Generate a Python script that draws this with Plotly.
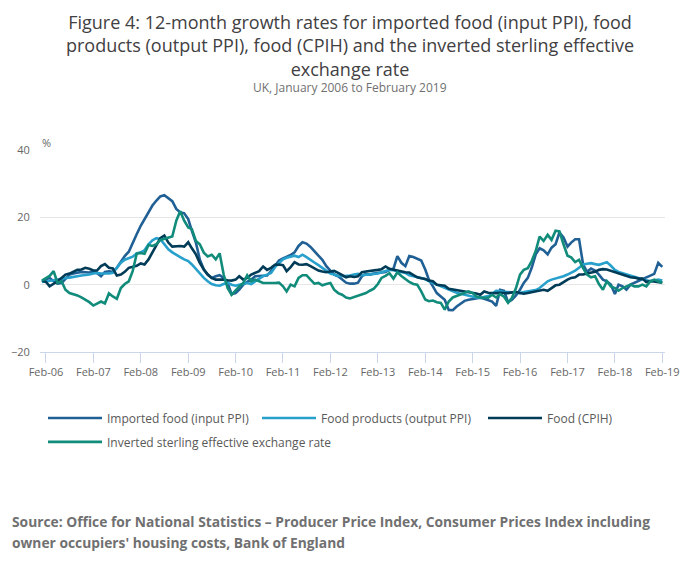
import pandas as pd
import plotly.graph_objects as go

months = pd.date_range("2006-01-01", "2019-02-01", freq="MS")

imported_food = [
    1.0, 1.5, 2.0, 1.0, 0.3, 0.5, 1.8, 3.0, 3.3, 3.6, 3.8, 3.7,
    3.6, 3.8, 3.5, 2.5, 3.8, 4.0, 3.8, 5.0, 6.8, 8.5, 9.8, 12.5,
    15.0, 17.5, 19.5, 21.5, 23.5, 25.0, 26.2, 26.6, 25.6, 24.8, 22.5, 21.5,
    21.2, 19.5, 16.0, 12.5, 7.5, 4.5, 3.0, 2.0, 2.5, 2.8, 2.0, 0.5,
    -2.8, -2.5, -1.5, 0.0, 0.8, 1.5, 2.5, 2.6, 2.5, 2.7, 4.0, 5.5,
    7.2, 7.8, 8.3, 8.8, 9.6, 11.5, 12.6, 12.2, 11.2, 9.8, 8.6, 7.4,
    5.5, 4.2, 3.0, 2.5, 1.5, 0.6, 0.3, 0.3, 0.6, 2.5, 3.2, 3.0,
    3.3, 3.4, 3.5, 3.8, 4.4, 4.7, 8.5, 6.5, 5.5, 8.5, 8.2, 7.7,
    7.2, 4.5, 1.5, -0.5, -2.5, -3.5, -4.5, -7.5, -7.6, -6.5, -5.5, -4.8,
    -4.5, -4.3, -4.0, -3.9, -4.2, -4.6, -5.0, -6.3, -1.5, -1.8, -5.2, -4.5,
    -3.2, -1.5, 0.5, 2.0, 5.0, 9.0, 10.8, 10.2, 9.0, 11.0, 12.0, 15.5,
    14.0, 11.3, 12.5, 13.5, 13.5, 6.0, 3.8, 4.8, 4.2, 3.0, 1.5, 1.0,
    0.0, -2.8, 0.0, -0.5, -1.5, 0.0, 0.5, 1.0, 1.7, 2.0, 2.5, 3.2,
    6.5, 5.3,
]

food_products = [
    0.8, 0.9, 1.0, 1.3, 1.5, 1.8, 2.0, 2.1, 2.4, 2.5, 2.7, 2.8,
    3.0, 3.3, 3.5, 3.3, 3.2, 3.3, 3.5, 5.0, 6.5, 7.4, 7.8, 8.3,
    9.3, 9.6, 10.2, 12.0, 13.2, 13.8, 13.5, 12.0, 10.5, 9.6, 8.8, 8.2,
    7.5, 7.0, 6.0, 4.6, 3.2, 2.0, 1.0, 0.2, -0.2, -0.3, 0.2, 0.6,
    0.0, -0.3, 0.0, 0.3, 0.5, 0.2, 1.0, 1.8, 2.5, 3.0, 3.5, 5.2,
    6.5, 7.5, 8.0, 8.4, 8.6, 8.2, 8.9, 8.2, 7.5, 6.6, 5.8, 5.0,
    4.0, 3.3, 3.0, 2.6, 2.5, 2.5, 2.7, 3.0, 3.2, 2.8, 3.0, 3.1,
    3.2, 3.3, 3.6, 4.1, 4.4, 4.3, 4.0, 3.9, 3.5, 2.8, 2.6, 2.4,
    2.0, 1.6, 1.0, 0.5, 0.0, -0.5, -1.0, -1.6, -2.0, -2.4, -2.7, -3.0,
    -3.1, -3.4, -3.8, -3.9, -3.7, -3.4, -2.8, -1.8, -1.9, -2.2, -2.2, -2.3,
    -2.3, -2.5, -2.2, -2.0, -2.0, -1.6, -1.0, 0.0, 1.0, 1.5, 1.8, 2.0,
    2.5, 3.0, 3.5, 4.2, 5.0, 6.0, 6.2, 6.4, 6.1, 5.9, 6.3, 6.7,
    5.6, 4.4, 3.8, 3.4, 3.0, 2.6, 2.2, 1.9, 1.6, 1.3, 1.0, 1.2,
    1.5, 1.2,
]

food_cpih = [
    1.2, 0.8, -0.5, 0.2, 1.0, 2.0, 3.0, 3.3, 3.8, 4.4, 4.5, 5.0,
    4.7, 4.2, 4.2, 5.5, 6.1, 5.0, 4.8, 2.7, 3.0, 3.8, 5.0, 5.3,
    5.6, 6.3, 6.0, 7.5, 9.5, 12.0, 13.8, 14.6, 12.5, 11.3, 11.4, 11.5,
    11.3, 12.6, 10.8, 9.0, 6.5, 4.5, 3.0, 2.0, 1.5, 1.6, 1.5, 1.3,
    1.2, 1.5, 2.5, 1.5, 2.0, 3.0, 3.5, 4.0, 5.4, 4.4, 5.0, 5.9,
    6.0, 5.8, 4.0, 5.2, 6.7, 6.0, 5.9, 6.1, 5.5, 4.8, 4.2, 3.9,
    3.7, 3.9, 4.1, 3.5, 2.9, 2.2, 2.5, 2.3, 2.5, 3.7, 3.9, 4.0,
    4.2, 4.4, 4.6, 5.4, 4.7, 4.4, 4.1, 3.8, 3.7, 3.6, 2.8, 2.2,
    1.9, 1.7, 1.2, 1.0, 0.0, -0.2, -0.3, -1.2, -1.4, -1.5, -1.7, -1.9,
    -2.3, -2.4, -2.6, -3.0, -2.0, -2.4, -2.5, -2.5, -2.4, -2.5, -2.5, -2.3,
    -2.2, -2.5, -2.7, -2.5, -2.2, -2.0, -1.8, -1.5, -1.8, -1.0, -0.2, 0.0,
    0.8, 1.5, 2.0, 2.2, 3.0, 3.0, 3.3, 3.6, 3.8, 4.4, 4.6, 4.5,
    4.1, 3.6, 3.4, 3.0, 2.6, 2.2, 2.1, 1.8, 1.8, 0.8, 1.1, 1.0,
    0.9, 0.6,
]

inverted_sterling = [
    1.2, 2.0, 2.6, 4.0, 0.5, 1.0, -1.5, -2.5, -2.8, -3.2, -3.8, -4.5,
    -5.2, -6.2, -5.6, -5.0, -5.6, -2.6, -3.5, -4.2, -1.0, 0.2, 1.0, 4.0,
    9.2, 9.4, 9.2, 11.8, 11.5, 12.0, 13.3, 13.6, 14.0, 14.3, 19.0, 21.8,
    19.0, 17.0, 16.5, 13.0, 12.0, 9.5, 8.4, 8.9, 7.5, 9.3, 3.0, -1.0,
    -3.0, -1.5, -0.5, 0.5, 2.8, 1.0, 1.5, 1.0, 0.5, 0.5, 0.4, 0.5,
    0.6, -0.5, -2.0, 0.0, -0.5, 2.0, 2.8, 2.8, 1.5, 0.3, 0.5, -0.2,
    0.2, 0.5, -1.5, -2.5, -3.0, -3.8, -4.1, -3.7, -3.4, -2.8, -2.5, -1.8,
    -1.2, 0.2, 2.0, 2.6, 3.4, 1.8, 3.7, 2.6, 1.6, 0.8, 0.2, 0.0,
    -2.0, -4.4, -4.9, -4.7, -5.2, -5.4, -7.4, -5.0, -3.8, -3.4, -3.0, -2.5,
    -2.0, -2.5, -3.5, -3.8, -3.9, -3.9, -3.0, -3.8, -2.8, -3.6, -5.4, -3.9,
    -1.0, 3.0, 4.4, 4.9, 7.0, 10.0, 14.3, 13.0, 14.8, 13.3, 16.0, 15.8,
    12.0, 8.6, 8.1, 6.7, 7.4, 4.9, 3.0, 2.2, 2.5, 0.2, -1.5, 1.0,
    -0.5, -1.0, -1.8, -1.0, -0.5, 0.0, -0.5, -0.5, 0.0, -0.5, 1.0, 1.5,
    1.0, 0.5,
]

series_names = [
    "Imported food (input PPI)",
    "Food products (output PPI)",
    "Food (CPIH)",
    "Inverted sterling effective exchange rate",
]
series_values = [imported_food, food_products, food_cpih, inverted_sterling]
series_colors = ["#206095", "#27a0cc", "#003c57", "#118c7b"]
series_legend = ["legend", "legend2", "legend3", "legend4"]

y_ticks = [-20, 0, 20, 40]

title_lines = [
    "Figure 4: 12-month growth rates for imported food (input PPI), food",
    "products (output PPI), food (CPIH) and the inverted sterling effective",
    "exchange rate",
]
subtitle = "UK, January 2006 to February 2019"
source_lines = [
    "Source: Office for National Statistics \u2013 Producer Price Index, Consumer Prices Index including",
    "owner occupiers' housing costs, Bank of England",
]

for v in series_values:
    assert len(v) == len(months), len(v)

# the page puts the figure 8px in from the window's top-left corner
OFF = 8
W, H = 700, 574
L, R = 40 - OFF, 665 - OFF
TOP, BOT = 149.5 - OFF, 352.3 - OFF


def px(xw):
    return (xw - OFF - L) / (R - L)


def py(yw):
    return (BOT - (yw - OFF)) / (BOT - TOP)


fig = go.Figure()
for name, vals, col, lg in zip(series_names, series_values, series_colors, series_legend):
    fig.add_trace(go.Scatter(
        x=months, y=vals, name=name, mode="lines",
        line=dict(color=col, width=2.6), legend=lg,
    ))

FONT = "Open Sans"
anns = [
    dict(text="<br>".join(title_lines), x=px(350), y=py(OFF), xref="paper", yref="paper",
         xanchor="center", yanchor="top", align="center", showarrow=False, borderpad=0,
         font=dict(family=FONT, size=18, color="#414042")),
    dict(text=subtitle, x=px(350), y=py(87), xref="paper", yref="paper",
         xanchor="center", yanchor="middle", showarrow=False,
         font=dict(family=FONT, size=12, color="#707070")),
    dict(text="%", x=px(40), y=py(142), xref="paper", yref="paper",
         xanchor="left", yanchor="middle", showarrow=False,
         font=dict(family=FONT, size=11, color="#666666")),
]
for i, t in enumerate(source_lines):
    anns.append(dict(text="<b>" + t + "</b>", x=px(10), y=py(522 + 22 * i), xref="paper", yref="paper",
                     xanchor="left", yanchor="middle", showarrow=False,
                     font=dict(family=FONT, size=13.8, color="#707071")))

legend_style = dict(orientation="h", xanchor="left", yanchor="top",
                    font=dict(family=FONT, size=12, color="#595959"),
                    bgcolor="rgba(0,0,0,0)", itemwidth=54)

# (line start x, row top y) in window pixels for each legend entry
legend_spots = [(48, 404), (262, 404), (488, 404), (48, 428)]
legends = {}
for key, (lx, ly) in zip(series_legend, legend_spots):
    legends[key] = dict(x=px(lx - 5), y=py(ly), **legend_style)

fig.update_layout(
    width=W, height=H,
    margin=dict(l=L, r=W - R, t=TOP, b=H - BOT, pad=0, autoexpand=False),
    paper_bgcolor="white", plot_bgcolor="white",
    font=dict(family=FONT, color="#666666"),
    showlegend=True,
    annotations=anns,
    xaxis=dict(
        type="date",
        range=["2005-12-17", "2019-02-22"],
        tick0="2006-02-01", dtick="M12", tickformat="%b-%y",
        showgrid=False, zeroline=False, automargin=False,
        showline=True, linecolor="#ccd6eb", linewidth=1,
        ticks="outside", ticklen=10, tickcolor="#ccd6eb", tickwidth=1,
        tickfont=dict(family=FONT, size=11, color="#666666"),
        fixedrange=True,
    ),
    yaxis=dict(
        range=[-20, 40], tickvals=y_ticks, automargin=False,
        showgrid=True, gridcolor="#e6e6e6", gridwidth=1,
        zeroline=False, showline=False,
        ticks="outside", ticklen=7, tickcolor="rgba(0,0,0,0)",
        tickfont=dict(family=FONT, size=11, color="#666666"),
        fixedrange=True,
    ),
    **legends,
)

fig.write_html("out.html")
